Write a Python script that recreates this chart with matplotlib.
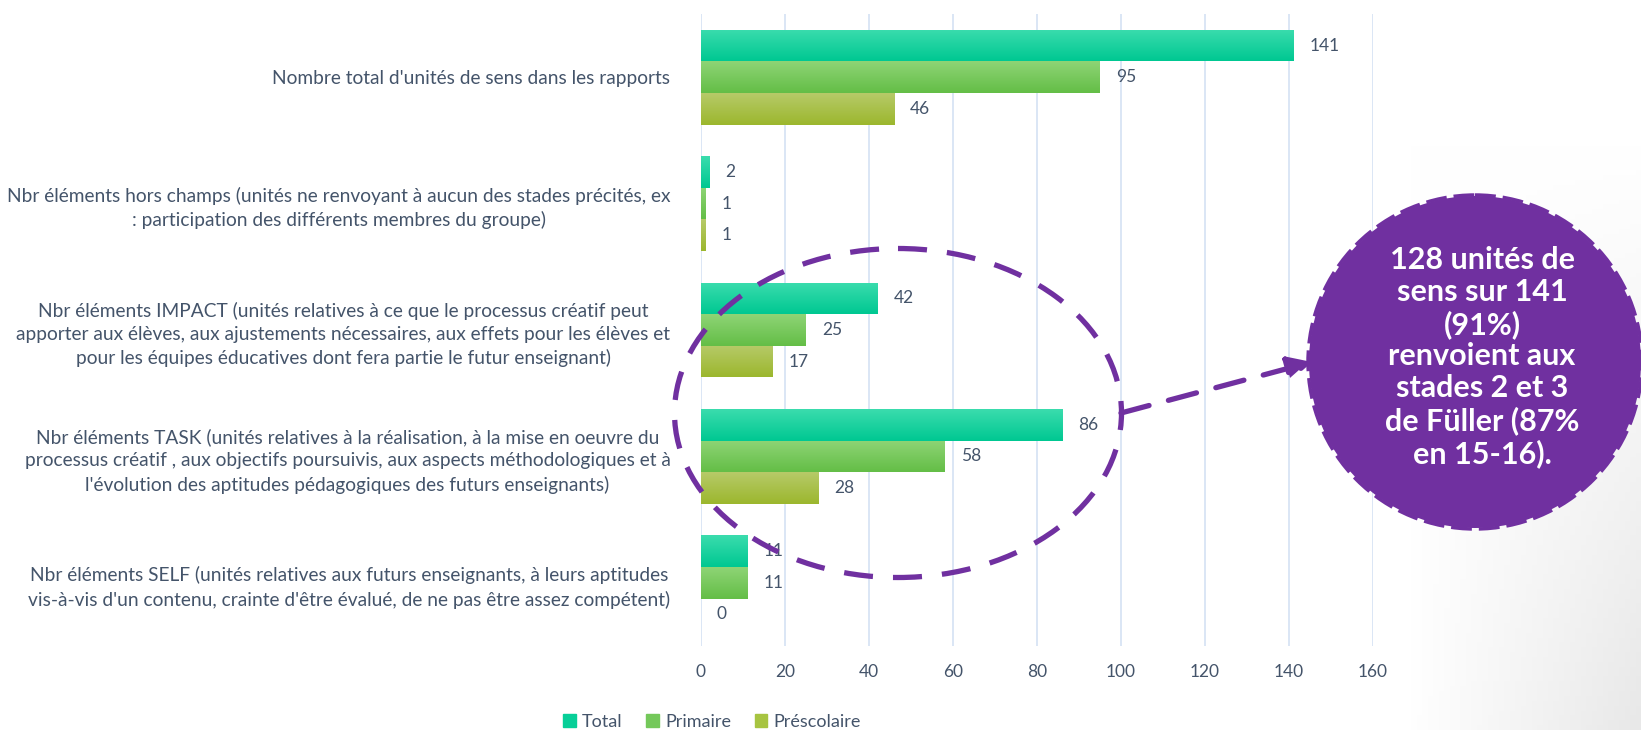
import matplotlib
matplotlib.use("Agg")
import matplotlib.pyplot as plt
import numpy as np
from matplotlib.patches import Ellipse, Circle, FancyArrowPatch
from matplotlib.colors import to_rgb

categories = [
    "Nombre total d'unités de sens dans les rapports",
    "Nbr éléments hors champs (unités ne renvoyant à aucun des stades précités, ex\n: participation des différents membres du groupe)",
    "Nbr éléments IMPACT (unités relatives à ce que le processus créatif peut\napporter aux élèves, aux ajustements nécessaires, aux effets pour les élèves et\npour les équipes éducatives dont fera partie le futur enseignant)",
    "Nbr éléments TASK (unités relatives à la réalisation, à la mise en oeuvre du\nprocessus créatif , aux objectifs poursuivis, aux aspects méthodologiques et à\nl'évolution des aptitudes pédagogiques des futurs enseignants)",
    "Nbr éléments SELF (unités relatives aux futurs enseignants, à leurs aptitudes\nvis-à-vis d'un contenu, crainte d'être évalué, de ne pas être assez compétent)",
]
series_names = ["Total", "Primaire", "Préscolaire"]
total = [141, 2, 42, 86, 11]
primaire = [95, 1, 25, 58, 11]
prescolaire = [46, 1, 17, 28, 0]
xticks = [0, 20, 40, 60, 80, 100, 120, 140, 160]
callout = "128 unités de\nsens sur 141\n(91%)\nrenvoient aux\nstades 2 et 3\nde Füller (87%\nen 15-16)."

colors = ["#07CF98", "#74C85A", "#A7C441"]
grad_top = ["#3ADCAD", "#8ED475", "#B6CA68"]
grad_bot = ["#00C892", "#64BE47", "#9CB72E"]
text_color = "#44546A"
grid_color = "#D8E4F4"
purple = "#7030A0"

plt.rcParams['font.family'] = ['Lato', 'DejaVu Sans']

W, H = 1641, 730
fig = plt.figure(figsize=(W / 100, H / 100), dpi=100)
fig.patch.set_facecolor("white")

# subtle background shading (right side)
bg = fig.add_axes([0, 0, 1, 1], zorder=-5)
xx, yy = np.meshgrid(np.linspace(0, 1, 300), np.linspace(0, 1, 150))
shade = np.clip((xx - 0.86) / 0.14, 0, 1) * np.clip((yy - 0.2) / 0.8, 0, 1)
img = np.ones((150, 300, 3)) - shade[..., None] * 0.09
bg.imshow(img, extent=[0, 1, 0, 1], aspect='auto', origin='upper')
bg.set_axis_off()

left, right = 701 / W, 1373 / W
top, bottom = 14 / H, 646 / H
ax = fig.add_axes([left, 1 - bottom, right - left, bottom - top])
ax.set_facecolor("none")

n = len(categories)
pos = np.arange(n)
h = 0.25
for k, (vals, c) in enumerate(zip([total, primaire, prescolaire], colors)):
    y = pos + (k - 1) * h
    bars = ax.barh(y, vals, height=h, color=c, label=series_names[k], zorder=3)
    g = np.linspace(0, 1, 32)[:, None, None]
    gimg = (1 - g) * np.array(to_rgb(grad_top[k])) + g * np.array(to_rgb(grad_bot[k]))
    for b in bars:
        if b.get_width() <= 0:
            continue
        x0, y0 = b.get_x(), b.get_y()
        im = ax.imshow(gimg, extent=[x0, x0 + b.get_width(), y0 + b.get_height(), y0],
                       aspect='auto', zorder=3.5, interpolation='bilinear')
        im.set_clip_path(b)
    for yi, v in zip(y, vals):
        ax.text(v + 3.8, yi, str(v), va='center', ha='left', fontsize=12.5,
                color=text_color, zorder=4)

ax.set_xlim(0, 160)
ax.set_ylim(n - 0.5, -0.5)
ax.set_aspect('auto')
ax.set_xticks(xticks)
ax.set_xticklabels([str(t) for t in xticks])
ax.set_yticks(pos)
ax.set_yticklabels(categories)
for lbl in ax.get_yticklabels():
    lbl.set_multialignment('center')
    lbl.set_linespacing(1.42)
ax.tick_params(axis='y', length=0, pad=22, labelsize=13.8, labelcolor=text_color)
ax.tick_params(axis='x', length=0, pad=13, labelsize=12.5, labelcolor=text_color)
ax.xaxis.grid(True, color=grid_color, linewidth=1.3, zorder=0)
ax.set_axisbelow(True)
for s in ax.spines.values():
    s.set_visible(False)

leg = fig.legend(loc='center', bbox_to_anchor=(712 / W, 1 - 722 / H), ncol=3,
                 frameon=False, fontsize=13, handlelength=0.7, handleheight=0.7,
                 handletextpad=0.35, columnspacing=1.3)
for t in leg.get_texts():
    t.set_color(text_color)
for i, hnd in enumerate(leg.legend_handles):
    hnd.set_color(colors[i])

# annotation overlay in pixel coordinates
ov = fig.add_axes([0, 0, 1, 1], zorder=10)
ov.set_xlim(0, W)
ov.set_ylim(H, 0)
ov.set_axis_off()
ov.patch.set_alpha(0)

ell = Ellipse((898, 413), 447, 329, fill=False, edgecolor=purple, linewidth=3.8,
              linestyle=(0, (5.5, 3.8)))
ov.add_patch(ell)
arr = FancyArrowPatch((1121, 413), (1312, 362), arrowstyle='-|>,head_length=14,head_width=7',
                      color=purple, linewidth=3.8, linestyle=(0, (5.5, 3.8)),
                      mutation_scale=1, shrinkA=0, shrinkB=0)
ov.add_patch(arr)
ov.add_patch(Circle((1475, 362), 166, facecolor=purple, edgecolor='none'))
ov.add_patch(Circle((1475, 362), 167, fill=False, edgecolor=purple, linewidth=2.5,
                    linestyle=(0, (6, 2))))
ov.text(1482, 357, callout, ha='center', va='center', multialignment='center',
        color='white', fontsize=22, fontweight='bold', linespacing=1.16)

fig.savefig("out.png", dpi=100)
